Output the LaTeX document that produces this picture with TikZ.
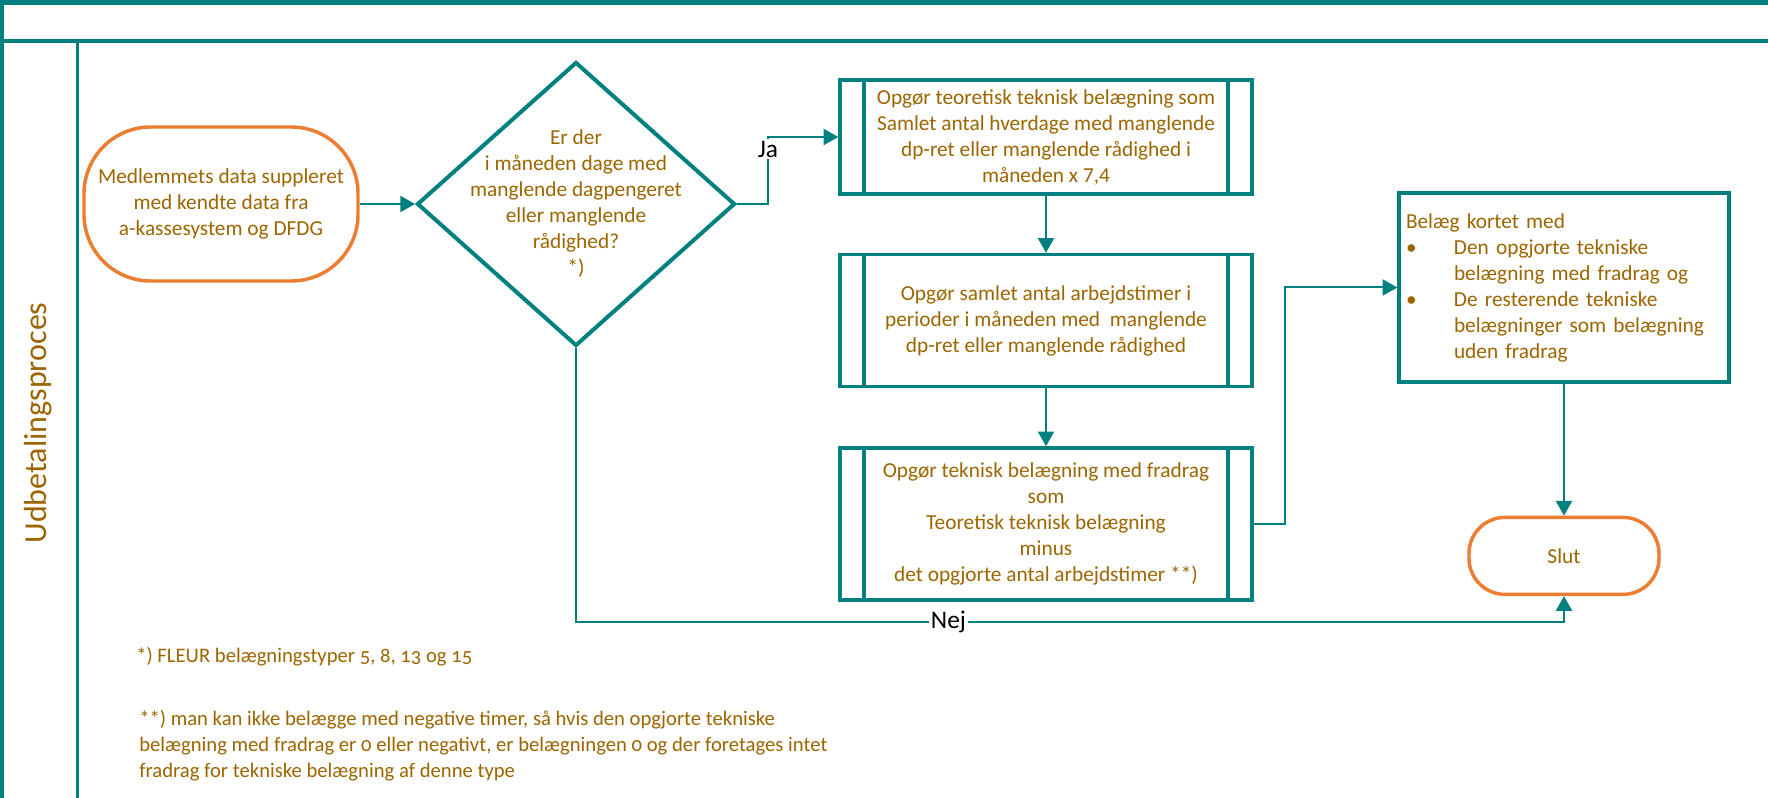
\documentclass[tikz,border=0pt]{standalone}
\usepackage{fontspec}
\setmainfont{Carlito}
\newfontfamily\notefamily[Numbers=OldStyle]{Carlito}
\usetikzlibrary{positioning,arrows.meta,shapes.geometric}
\definecolor{tealline}{RGB}{0,128,128}
\definecolor{orangeterm}{RGB}{237,125,49}
\definecolor{browntext}{RGB}{156,101,0}
\newcommand\flowfont{\fontsize{16}{19.5}\selectfont}
\tikzset{
  lane/.style   ={draw=tealline, line width=3pt},
  lanetxt/.style={text=browntext, font=\fontsize{24}{28}\selectfont, inner sep=0pt},
  term/.style   ={draw=orangeterm, line width=2.6pt, align=center, text=browntext,
                  font=\flowfont, inner sep=0pt},
  dec/.style    ={draw=tealline, line width=3pt, shape=diamond, inner sep=0pt,
                  minimum width=238.5pt, minimum height=213pt},
  txt/.style    ={align=center, text=browntext, font=\flowfont, inner sep=0pt},
  proc/.style   ={draw=tealline, line width=2.6pt, align=center, text=browntext,
                  font=\flowfont, inner sep=0pt, minimum width=309pt,
                  path picture={\draw[tealline, line width=2.4pt]
                    ([xshift=18pt]path picture bounding box.north west) -- ([xshift=18pt]path picture bounding box.south west)
                    ([xshift=-18pt]path picture bounding box.north east) -- ([xshift=-18pt]path picture bounding box.south east);}},
  plain/.style  ={draw=tealline, line width=2.5pt, align=left, text=browntext,
                  font=\flowfont, inner sep=0pt},
  note/.style   ={align=left, text=browntext, inner sep=0pt,
                  font=\notefamily\fontsize{15.5}{19.5}\selectfont},
  lbl/.style    ={fill=white, text=black, inner sep=1.5pt, font=\fontsize{19}{22}\selectfont},
  conn/.style   ={-{Triangle[length=11pt,width=12pt]}, draw=tealline, line width=1.5pt},
}
\begin{document}
\begin{tikzpicture}[x=0.75pt,y=-0.75pt]
\useasboundingbox (0,0) rectangle (1768,798);
\draw[lane,line width=3.75pt] (0,2.5) -- (1768,2.5);
\draw[lane] (0,41) -- (1768,41);
\draw[lane] (2,0) -- (2,798);
\draw[lane,line width=2.25pt] (77.5,41) -- (77.5,798);
\node[lanetxt,rotate=90] (lane) at (38,423) {Udbetalingsproces};
\node[term,minimum width=205.5pt,minimum height=115.5pt,rounded corners=50pt] (start) at (221,204)
  {Medlemmets data suppleret\\med kendte data fra\\a-kassesystem og DFDG};
\node[dec] (dec) at (576,204) {};
\node[txt] (dectxt) at (dec.center)
  {Er der\\i måneden dage med\\manglende dagpengeret\\eller manglende\\rådighed?\\*)};
\node[proc,minimum height=85.5pt] (b1) at (1046,137)
  {Opgør teoretisk teknisk belægning som\\Samlet antal hverdage med manglende\\dp-ret eller manglende rådighed i\\måneden x 7,4};
\node[proc,minimum height=99pt,below=42.75pt of b1] (b2)
  {Opgør samlet antal arbejdstimer i\\perioder i måneden med \ manglende\\dp-ret eller manglende rådighed};
\node[proc,minimum height=114pt,below=43.5pt of b2] (b3)
  {Opgør teknisk belægning med fradrag\\som\\Teoretisk teknisk belægning\\minus\\det opgjorte antal arbejdstimer **)};
\node[plain,text width=237pt,minimum width=247.5pt,minimum height=141.75pt] (b4) at (1564,287.5)
  {Belæg kortet med\\\makebox[36pt][l]{\textbullet}Den opgjorte tekniske\\\hspace*{36pt}belægning med fradrag og\\
   \makebox[36pt][l]{\textbullet}De resterende tekniske\\\hspace*{36pt}belægninger som belægning\\\hspace*{36pt}uden fradrag};
\node[term,minimum width=142.5pt,minimum height=57.75pt,rounded corners=27pt,below=99pt of b4] (slut) {Slut};
\node[note,anchor=west] (note1) at (136,657) {*) FLEUR belægningstyper 5, 8, 13 og 15};
\node[note,anchor=west] (note2) at (139,746)
  {**) man kan ikke belægge med negative timer, så hvis den opgjorte tekniske\\belægning med fradrag er 0 eller negativt, er belægningen 0 og der foretages intet\\fradrag for tekniske belægning af denne type};
\coordinate (nejrow) at (0,622);
\draw[conn] (start.east) -- (dec.west);
\draw[conn] (dec.east) -- ++(31,0) |- node[lbl,pos=0.41] (ja) {Ja} (b1.west);
\draw[conn] (b1) -- (b2);
\draw[conn] (b2) -- (b3);
\draw[conn] (b3.east) -- ++(31,0) |- (b4.west);
\draw[conn] (b4) -- (slut);
\draw[conn] (dec.south) -- (dec.south |- nejrow) -- node[lbl,pos=0.377] (nej) {Nej} (slut.south |- nejrow) -- (slut.south);
\end{tikzpicture}
\end{document}
